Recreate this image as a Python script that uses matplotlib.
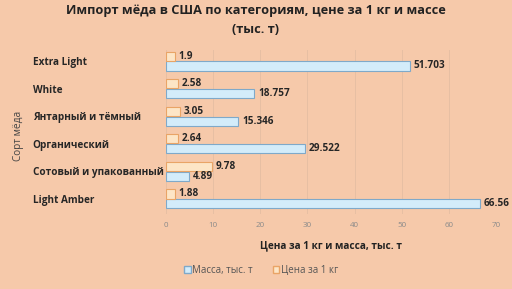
import matplotlib
matplotlib.use("Agg")
import matplotlib.pyplot as plt
import numpy as np
from matplotlib.patches import Patch

plt.rcParams['font.family'] = ['Open Sans', 'DejaVu Sans']

categories = ["Light Amber", "Сотовый и упакованный", "Органический",
              "Янтарный и тёмный", "White", "Extra Light"]
mass = [66.56, 4.89, 29.522, 15.346, 18.757, 51.703]
price = [1.88, 9.78, 2.64, 3.05, 2.58, 1.9]
mass_labels = ["66.56", "4.89", "29.522", "15.346", "18.757", "51.703"]
price_labels = ["1.88", "9.78", "2.64", "3.05", "2.58", "1.9"]
xticks = [0, 10, 20, 30, 40, 50, 60, 70]

bg = "#F6C9AA"
fig = plt.figure(figsize=(5.12, 2.89), dpi=100, facecolor=bg)
ax = fig.add_axes([0.324, 0.26, 0.645, 0.567], facecolor=bg)

y = np.arange(len(categories))
h = 0.33
ax.barh(y - 0.18, mass, height=h, color="#D3ECFA", edgecolor="#7FA9C9", linewidth=0.8, zorder=3)
ax.barh(y + 0.18, price, height=h, color="#FDE5C6", edgecolor="#E9A466", linewidth=0.8, zorder=3)

for yi, v, s in zip(y, mass, mass_labels):
    ax.text(v + 0.8, yi - 0.18, s, va="center", ha="left", fontsize=7.2, fontweight="bold",
            color="#262626", zorder=4)
for yi, v, s in zip(y, price, price_labels):
    ax.text(v + 0.8, yi + 0.18, s, va="center", ha="left", fontsize=7.2, fontweight="bold",
            color="#262626", zorder=4)

ax.set_xlim(0, 70)
ax.set_ylim(-0.54, 5.4)
ax.set_xticks(xticks)
ax.set_xticklabels([str(t) for t in xticks], fontsize=5.8, color="#8A8A8A")
ax.set_yticks(y)
ax.set_yticklabels(categories, fontsize=7.2, fontweight="bold", color="#262626")
for lab in ax.get_yticklabels():
    lab.set_horizontalalignment("left")
ax.tick_params(axis="y", length=0, pad=96)
ax.tick_params(axis="x", length=0, pad=6)
ax.grid(axis="x", color="#E7BFA3", linewidth=0.7, zorder=0)
for sp in ax.spines.values():
    sp.set_visible(False)

ax.set_xlabel("Цена за 1 кг и масса, тыс. т", fontsize=7.2, fontweight="bold", color="#222222", labelpad=8)
fig.text(0.037, 0.53, "Сорт мёда", rotation=90, fontsize=7.2, color="#444444", ha="center", va="center")
fig.text(0.5, 0.962, "Импорт мёда в США по категориям, цене за 1 кг и массе", fontsize=9.2,
         fontweight="bold", ha="center", va="center", color="#222222")
fig.text(0.5, 0.899, "(тыс. т)", fontsize=9.2, fontweight="bold", ha="center", va="center", color="#222222")

handles = [Patch(facecolor="#D3ECFA", edgecolor="#7FA9C9", label="Масса, тыс. т"),
           Patch(facecolor="#FDE5C6", edgecolor="#E9A466", label="Цена за 1 кг")]
leg = fig.legend(handles=handles, loc="center", bbox_to_anchor=(0.51, 0.065), ncol=2, frameon=False,
                 fontsize=7, handlelength=0.7, handleheight=0.7, handletextpad=0.2, columnspacing=2.0)
for t in leg.get_texts():
    t.set_color("#555555")

fig.savefig("out.png", dpi=100, facecolor=bg)
